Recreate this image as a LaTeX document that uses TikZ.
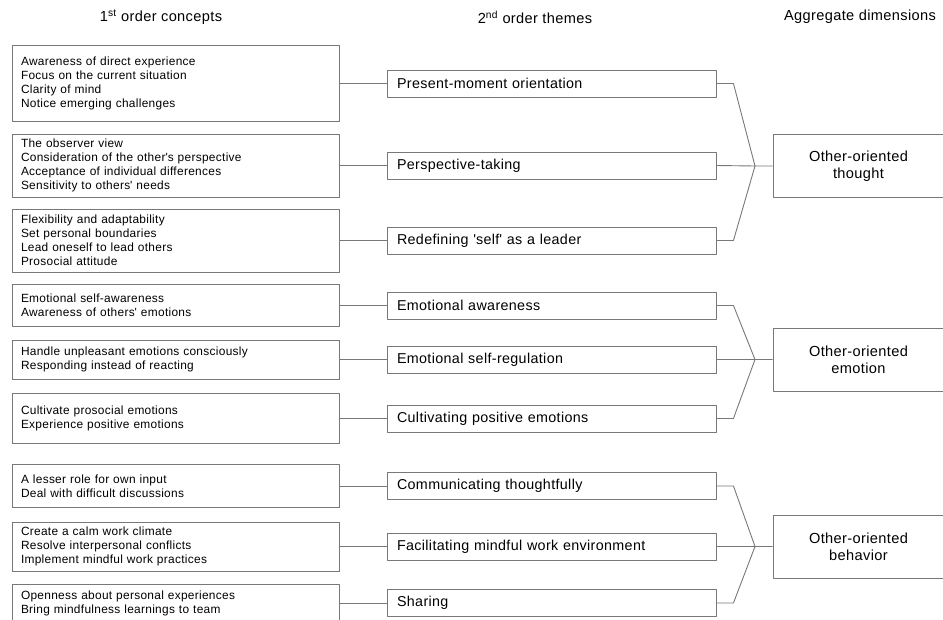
\documentclass[tikz,border=0pt]{standalone}
\usepackage{fontspec}
\setmainfont{Liberation Sans}[LetterSpace=2.5]
\definecolor{edgegray}{RGB}{120,120,120}
\newcommand{\tick}{\textquotesingle}
\tikzset{
  concept/.style={draw=edgegray, line width=0.9pt, minimum height=#1,
    text width=309pt, inner xsep=9pt, inner ysep=0pt, align=left,
    font=\fontsize{11.9}{14}\selectfont},
  theme/.style={draw=edgegray, line width=0.9pt, minimum height=27pt,
    text width=309pt, inner xsep=10pt, inner ysep=0pt, align=left,
    font=\fontsize{14.3}{16}\selectfont},
  dimension/.style={draw=edgegray, line width=0.9pt, minimum height=63pt,
    minimum width=171pt, inner sep=0pt, align=center,
    font=\fontsize{14.6}{17}\selectfont},
  heading/.style={font=\fontsize{14.6}{17}\selectfont},
  link/.style={draw=edgegray, line width=0.9pt}
}
\begin{document}
\begin{tikzpicture}[x=1pt, y=-1pt, line join=round]
  \useasboundingbox (0,0) rectangle (943,619);

  % Headings
  \node[heading] (h1) at (161,17) {1\textsuperscript{st} order concepts};
  \node[heading] (h2) at (535,17) {2\textsuperscript{nd} order themes};
  \node[heading] (h3) at (860,17) {Aggregate dimensions};

  % 2nd order themes
  \node[theme] (t1) at (551.5,83.5) {Present-moment orientation};
  \node[theme] (t2) at (551.5,165.5) {Perspective-taking};
  \node[theme] (t3) at (551.5,240.5) {Redefining \tick self\tick{} as a leader};
  \node[theme] (t4) at (551.5,305.5) {Emotional awareness};
  \node[theme] (t5) at (551.5,359.5) {Emotional self-regulation};
  \node[theme] (t6) at (551.5,418.5) {Cultivating positive emotions};
  \node[theme] (t7) at (551.5,486) {Communicating thoughtfully};
  \node[theme] (t8) at (551.5,546.5) {Facilitating mindful work environment};
  \node[theme] (t9) at (551.5,603) {Sharing};

  % 1st order concepts
  \node[concept=76pt] (c1) at (175.5,83.5) {Awareness of direct experience\\
    Focus on the current situation\\ Clarity of mind\\ Notice emerging challenges};
  \node[concept=63pt] (c2) at (175.5,165.5) {The observer view\\
    Consideration of the other\tick s perspective\\
    Acceptance of individual differences\\ Sensitivity to others\tick{} needs};
  \node[concept=63pt] (c3) at (175.5,240.5) {Flexibility and adaptability\\
    Set personal boundaries\\ Lead oneself to lead others\\ Prosocial attitude};
  \node[concept=42pt] (c4) at (175.5,305.5) {Emotional self-awareness\\
    Awareness of others\tick{} emotions};
  \node[concept=39pt] (c5) at (175.5,359.5) {Handle unpleasant emotions consciously\\
    Responding instead of reacting};
  \node[concept=50pt] (c6) at (175.5,418.5) {Cultivate prosocial emotions\\
    Experience positive emotions};
  \node[concept=43pt] (c7) at (175.5,486) {A lesser role for own input\\
    Deal with difficult discussions};
  \node[concept=49pt] (c8) at (175.5,546.5) {Create a calm work climate\\
    Resolve interpersonal conflicts\\ Implement mindful work practices};
  \node[concept=37pt] (c9) at (175.5,603) {Openness about personal experiences\\
    Bring mindfulness learnings to team};

  % Aggregate dimensions
  \node[dimension] (a1) at (858.5,166) {Other-oriented\\ thought};
  \node[dimension] (a2) at (858.5,359.5) {Other-oriented\\ emotion};
  \node[dimension] (a3) at (858.5,546.5) {Other-oriented\\ behavior};

  % Concepts to themes
  \foreach \i in {1,...,9}
    \draw[link] (c\i.east) -- (t\i.west);

  % Brackets
  \coordinate (j1) at (755,166);
  \coordinate (j2) at (755,359.5);
  \coordinate (j3) at (755,546.5);
  \draw[link] (t1.east) -- ++(17,0) -- (j1) -- (a1.west);
  \draw[link] (t2.east) -- (j1);
  \draw[link] (t3.east) -- ++(17,0) -- (j1);
  \draw[link] (t4.east) -- ++(17,0) -- (j2) -- (a2.west);
  \draw[link] (t5.east) -- (j2);
  \draw[link] (t6.east) -- ++(17,0) -- (j2);
  \draw[link] (t7.east) -- ++(17,0) -- (j3) -- (a3.west);
  \draw[link] (t8.east) -- (j3);
  \draw[link] (t9.east) -- ++(17,0) -- (j3);
\end{tikzpicture}
\end{document}
